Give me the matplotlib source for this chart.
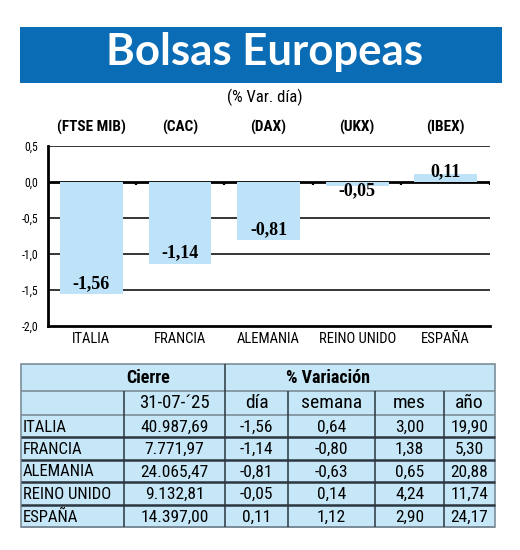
import matplotlib
matplotlib.use("Agg")
import matplotlib.pyplot as plt
from matplotlib import font_manager
from matplotlib.patches import Rectangle
import numpy as np

# ---------- Data ----------
paises = ["ITALIA", "FRANCIA", "ALEMANIA", "REINO UNIDO", "ESPAÑA"]
indices = ["(FTSE MIB)", "(CAC)", "(DAX)", "(UKX)", "(IBEX)"]
var_dia = [-1.56, -1.14, -0.81, -0.05, 0.11]
cierre = [40987.69, 7771.97, 24065.47, 9132.81, 14397.00]
var_semana = [0.64, -0.80, -0.63, 0.14, 1.12]
var_mes = [3.00, 1.38, 0.65, 4.24, 2.90]
var_anio = [19.90, 5.30, 20.88, 11.74, 24.17]
y_ticks = [0.5, 0.0, -0.5, -1.0, -1.5, -2.0]
fecha = "31-07-\u00b425"
col_heads = ["día", "semana", "mes", "año"]

BLUE = "#0a6cb4"
BAR = "#bee3f8"
TABLE_BG = "#c6e7f8"


# ---------- Fonts ----------
def find_condensed():
    fl = font_manager.fontManager.ttflist
    names = {f.name for f in fl}
    for n in ["Liberation Sans Narrow", "Roboto Condensed", "Open Sans Condensed"]:
        if n in names:
            return {"family": n}
    for n in ["Noto Sans", "Open Sans", "Roboto"]:
        if any(f.name == n and f.stretch in ("condensed", "semi-condensed", 87.5, 75, 62.5) for f in fl):
            return {"family": n, "fontstretch": "condensed"}
    return {"family": "Liberation Sans"}


COND = find_condensed()
SERIF = {"family": "Liberation Serif", "fontweight": "bold"}


def fmt(v):
    return f"{v:.2f}".replace(".", ",")


def fmt_miles(v):
    return f"{v:,.2f}".replace(",", "X").replace(".", ",").replace("X", ".")


W, H = 520, 550


def box(l, t, r, b):
    return [l / W, 1 - b / H, (r - l) / W, (b - t) / H]


fig = plt.figure(figsize=(W / 100, H / 100), dpi=100)

# ---------- overlay: banner + table ----------
ov = fig.add_axes([0, 0, 1, 1], zorder=0)
ov.set_xlim(0, W)
ov.set_ylim(H, 0)
ov.axis("off")

ov.add_patch(Rectangle((20, 27), 482, 56, facecolor=BLUE, edgecolor="none"))
ov.text(264, 65, "Bolsas Europeas", color="white", fontsize=31.5, fontweight="bold",
        family="Lato", ha="center", va="baseline")
ov.text(265, 97, "(% Var. día)", fontsize=12, ha="center", va="center", **COND)

col_x = [21, 124, 225, 288, 375, 444, 495]
row_y = [364, 391, 414.5, 437, 459.5, 482, 504.5, 527]
line_dark = "#2b3640"
line_soft = "#7c8d99"

ov.add_patch(Rectangle((col_x[0], row_y[0]), col_x[-1] - col_x[0], row_y[-1] - row_y[0],
                       facecolor=TABLE_BG, edgecolor=line_soft, lw=1.2))
ov.hlines(row_y[1:3], col_x[0], col_x[-1], color=line_soft, lw=1.2)
ov.hlines(row_y[3:-1], col_x[0], col_x[-1], color=line_dark, lw=1.8)
ov.hlines(row_y[-1], col_x[0], col_x[-1], color=line_soft, lw=1.4)
ov.vlines(col_x[2], row_y[0], row_y[-1], color=line_dark, lw=1.1)
ov.vlines([col_x[1], col_x[3], col_x[4], col_x[5]], row_y[1], row_y[-1], color=line_dark, lw=1.1)

ov.text(148, 378, "Cierre", fontsize=13, fontweight="bold", ha="center", va="center", **COND)
ov.text(328, 378, "% Variación", fontsize=13, fontweight="bold", ha="center", va="center", **COND)
centers = [(col_x[i] + col_x[i + 1]) / 2 for i in range(len(col_x) - 1)]
ov.text(centers[1], 403, fecha, fontsize=13.5, ha="center", va="center", **COND)
for c, h in zip(centers[2:], col_heads):
    ov.text(c, 403, h, fontsize=14, ha="center", va="center", **COND)

for i, p in enumerate(paises):
    yc = row_y[i + 3] - 10
    vals = [fmt_miles(cierre[i]), fmt(var_dia[i]), fmt(var_semana[i]), fmt(var_mes[i]), fmt(var_anio[i])]
    ov.text(col_x[0] + 2, yc, p, fontsize=12, ha="left", va="center", **COND)
    for c, v in zip(centers[1:], vals):
        ov.text(c, yc, v, fontsize=12.5, ha="center", va="center", **COND)

# ---------- bar chart ----------
ax = fig.add_axes(box(48, 146, 490, 326), zorder=1)
ax.patch.set_alpha(0)
x = np.arange(len(paises))
ax.set_xlim(-0.49, len(paises) - 0.5)
ax.set_ylim(y_ticks[-1], y_ticks[0])

for yv in y_ticks[:-1]:
    if yv != 0:
        ax.axhline(yv, color="black", lw=1.1, zorder=1)
ax.axhline(0, color="black", lw=2, zorder=2)
ax.vlines(x + 0.5, -0.045, 0, color="black", lw=1.6, zorder=2)

ax.bar(x, var_dia, width=0.71, color=BAR, zorder=3)

for xi, v in zip(x, var_dia):
    if v < -0.3:
        off = 11
    elif v < 0:
        off = -5.5
    else:
        off = 2
    ax.annotate(fmt(v), (xi, v), xytext=(0, off * 0.72), textcoords="offset points",
                ha="center", va="center", fontsize=13, zorder=4, **SERIF)

for xi, lab in zip(x, indices):
    ax.text(xi, 1.105, lab, transform=ax.get_xaxis_transform(), ha="center", va="center",
            fontsize=11, fontweight="bold", **COND)

for s in ["top", "right"]:
    ax.spines[s].set_visible(False)
for s in ["left", "bottom"]:
    ax.spines[s].set_linewidth(2)
ax.tick_params(axis="both", length=0)
ax.set_yticks(y_ticks)
ax.set_yticklabels([f"{t:.1f}".replace(".", ",") for t in y_ticks], fontsize=8.5, **COND)
ax.tick_params(axis="y", pad=7)
ax.set_xticks(x)
ax.set_xticklabels(paises, fontsize=10.5, **COND)
ax.tick_params(axis="x", pad=4)

fig.savefig("out.png", dpi=100)
